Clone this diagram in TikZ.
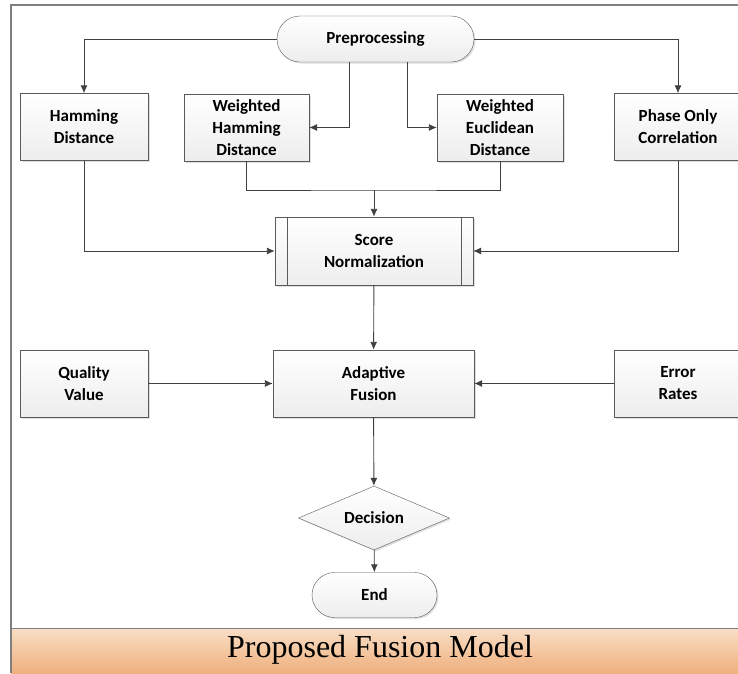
\documentclass[tikz,border=0pt]{standalone}
\usepackage{fontspec}
\usepackage{tikz}
\usetikzlibrary{arrows.meta,shapes.geometric,shapes.misc,shadows}
\newfontfamily\boxfont{Carlito}
\newfontfamily\capfont{Liberation Serif}
\definecolor{boxline}{HTML}{5A5A5A}
\definecolor{wire}{HTML}{404040}
\definecolor{peachtop}{HTML}{F9DEC6}
\definecolor{peachbot}{HTML}{EFB07D}

\begin{document}
\begin{tikzpicture}
            [x=1pt,y=-1pt,
             block/.style={draw=boxline,top color=white,bottom color=gray!14,
               font=\boxfont\bfseries\fontsize{17}{22}\selectfont,align=center,inner sep=0pt,
               drop shadow={shadow xshift=1.5pt,shadow yshift=-1.5pt,opacity=0.25}},
             box/.style={block,rectangle,minimum width=128pt,minimum height=67pt},
             term/.style={block,rounded rectangle,minimum height=46pt},
             wire/.style={draw=wire,line width=0.9pt,-{Latex[length=8pt,width=7pt]}}]
            \useasboundingbox (0,0) rectangle (738,673);
            % frame and caption
            \fill[top color=peachtop,bottom color=peachbot,draw=none] (11,628) rectangle (738,673);
            \draw[gray,line width=1.2pt] (11,673) -- (11,5) -- (738,5);
            \draw[gray,line width=1pt] (11,628) -- (738,628);
            \node[font=\capfont\fontsize{32}{36}\selectfont] (cap) at (380,650) {Proposed Fusion Model};
            % nodes
            \node[term,minimum width=197pt] (pre) at (375.5,39) {Preprocessing};
            \node[box] (ham) at (84,127) {Hamming\\Distance};
            \node[box,minimum width=125pt] (whd) at (246.5,127.5) {Weighted\\Hamming\\Distance};
            \node[box,minimum width=126pt] (wed) at (500,127.5) {Weighted\\Euclidean\\Distance};
            \node[box] (poc) at (678,127) {Phase Only\\Correlation};
            \node[box,minimum width=198pt,minimum height=68pt] (norm) at (374,251) {Score\\Normalization};
            \node[box] (qv) at (84,383.5) {Quality\\Value};
            \node[box,minimum width=201pt] (af) at (373.5,383.5) {Adaptive\\Fusion};
            \node[box] (er) at (678,383.5) {Error\\Rates};
            \node[block,diamond,minimum width=151pt,minimum height=64pt,aspect=2.36] (dec) at (374,518) {Decision};
            \node[term,minimum width=125pt,minimum height=45pt] (end) at (374.5,595) {End};
            \coordinate (join) at (374,190);
            % process bars
            \draw[boxline] ([xshift=12pt]norm.north west) -- ([xshift=12pt]norm.south west);
            \draw[boxline] ([xshift=-12pt]norm.north east) -- ([xshift=-12pt]norm.south east);
            % from preprocessing
            \draw[wire] (pre.west) -| (ham.north);
            \draw[wire] (pre.east) -| (poc.north);
            \draw[wire] ([xshift=-26pt]pre.south) |- (whd.east);
            \draw[wire] ([xshift=32pt]pre.south) |- (wed.west);
            % into normalization
            \draw[wire,-] (whd.south) |- (join) -| (wed.south);
            \draw[wire] (join) -- (norm.north);
            \draw[wire] (ham.south) |- (norm.west);
            \draw[wire] (poc.south) |- (norm.east);
            % fusion
            \draw[wire] (norm) -- (af);
            \draw[wire] (qv) -- (af);
            \draw[wire] (er) -- (af);
            \draw[wire] (af) -- (dec);
            \draw[wire] (dec) -- (end);
        \end{tikzpicture}
\end{document}
